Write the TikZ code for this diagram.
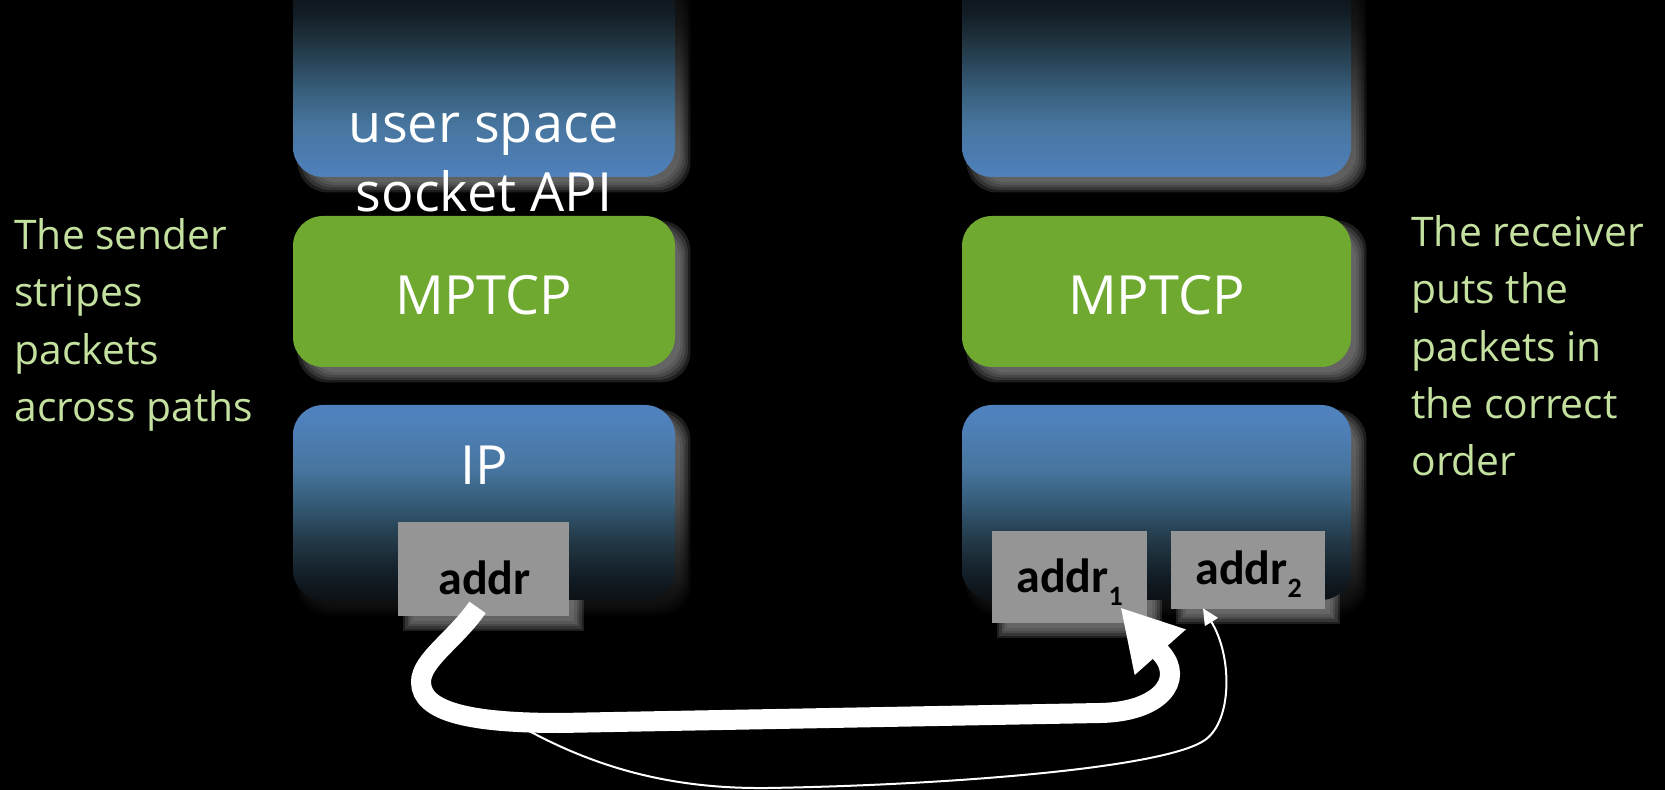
\documentclass[tikz,border=0pt]{standalone}
\usepackage{fontspec}
\setmainfont{Open Sans}
\newfontfamily\addrfont{Carlito}
\usetikzlibrary{arrows.meta,calc}

\definecolor{layerblue}{RGB}{79,129,189}
\definecolor{layergreen}{RGB}{111,169,48}
\definecolor{addrgray}{RGB}{149,149,149}
\definecolor{notegreen}{RGB}{196,225,160}
\definecolor{fadeA}{RGB}{72,118,160}
\definecolor{fadeB}{RGB}{56,96,126}
\definecolor{fadeC}{RGB}{34,56,70}
\definecolor{fadeD}{RGB}{18,28,36}
\definecolor{fadeE}{RGB}{8,10,13}
\definecolor{shadowgray}{RGB}{150,150,150}
\colorlet{shA}{shadowgray!88!black}
\colorlet{shB}{shadowgray!72!black}
\colorlet{shC}{shadowgray!42!black}
\colorlet{shD}{shadowgray!22!black}
\colorlet{shE}{shadowgray!8!black}

% upper layers: black at the top, blue at the bottom
\pgfdeclareverticalshading{fadeup}{100bp}{color(0bp)=(layerblue); color(24.2bp)=(layerblue); color(37.2bp)=(fadeA); color(45.4bp)=(fadeB); color(56.5bp)=(fadeC); color(64.7bp)=(fadeD); color(78.3bp)=(fadeE); color(85.5bp)=(black); color(100bp)=(black)}
\pgfdeclareverticalshading{fadeupshadow}{100bp}{color(0bp)=(shadowgray); color(24.2bp)=(shadowgray); color(37.2bp)=(shA); color(45.4bp)=(shB); color(56.5bp)=(shC); color(64.7bp)=(shD); color(78.3bp)=(shE); color(85.5bp)=(black); color(100bp)=(black)}
% lower layers: blue at the top, black at the bottom
\pgfdeclareverticalshading{fadedown}{100bp}{color(0bp)=(black); color(11.3bp)=(black); color(21.5bp)=(fadeE); color(30.8bp)=(fadeD); color(40bp)=(fadeC); color(51.3bp)=(fadeB); color(59bp)=(fadeA); color(71.8bp)=(layerblue); color(100bp)=(layerblue)}
\pgfdeclareverticalshading{fadedownshadow}{100bp}{color(0bp)=(black); color(11.3bp)=(black); color(21.5bp)=(shE); color(30.8bp)=(shD); color(40bp)=(shC); color(51.3bp)=(shB); color(59bp)=(shA); color(71.8bp)=(shadowgray); color(100bp)=(shadowgray)}

\pgfdeclarelayer{backdrop}
\pgfdeclarelayer{shadows}
\pgfsetlayers{backdrop,shadows,main}

% soft drop shadow below a named node
\newcommand\dropshadow[3]{%
  \foreach \sh in {-5,-2.5,0,2.5,5}{%
    \path[#2, opacity=0.2, rounded corners=#3]
      ($(#1.north west)+(10-\sh,10-\sh)$) rectangle ($(#1.south east)+(10+\sh,10+\sh)$);
  }}

\tikzset{
  layerbox/.style={rounded corners=15pt, inner sep=0pt, draw=none},
  addrbox/.style={fill=addrgray, inner sep=0pt, draw=none},
  lbl/.style={text=white, font=\fontsize{27}{27}\selectfont, inner sep=0pt},
  addrtxt/.style={text=black, font=\addrfont\bfseries\fontsize{24}{24}\selectfont, inner sep=0pt},
  note/.style={text=notegreen, font=\fontsize{20.4}{28.7}\selectfont, align=left, inner sep=0pt},
  bigflow/.style={draw=white, line width=10pt, -{Triangle[length=30pt,width=32pt]}},
  smallflow/.style={draw=white, line width=1pt, -{Triangle[length=8pt,width=7.5pt]}},
}
\newcommand\addrsub[1]{{\fontsize{14}{14}\selectfont\raisebox{-6pt}{#1}}}

\begin{document}
\begin{tikzpicture}[x=0.5pt, y=-0.5pt]
\useasboundingbox (0,0) rectangle (1665,790);
\begin{pgfonlayer}{backdrop}
  \fill[black] (0,0) rectangle (1665,790);
\end{pgfonlayer}

% sender stack
\node[layerbox, shading=fadeup, minimum width=191pt, minimum height=103.5pt] (userL) at (484,73.5) {};
\node[layerbox, fill=layergreen, minimum width=191pt, minimum height=75.5pt] (mptcpL) at (484,291.5) {};
\node[layerbox, shading=fadedown, minimum width=191pt, minimum height=97.5pt] (ipL) at (484,502.5) {};
\node[addrbox, minimum width=85.5pt, minimum height=47pt] (addrL) at (483.5,569) {};

% receiver stack
\node[layerbox, shading=fadeup, minimum width=194.5pt, minimum height=103.5pt] (userR) at (1156.5,73.5) {};
\node[layerbox, fill=layergreen, minimum width=194.5pt, minimum height=75.5pt] (mptcpR) at (1156.5,291.5) {};
\node[layerbox, shading=fadedown, minimum width=194.5pt, minimum height=97.5pt] (ipR) at (1156.5,502.5) {};
\node[addrbox, minimum width=77.5pt, minimum height=46pt] (addrA) at (1069.5,577) {};
\node[addrbox, minimum width=77pt, minimum height=39pt] (addrB) at (1248,570) {};

\begin{pgfonlayer}{shadows}
  \dropshadow{userL}{shading=fadeupshadow}{15pt}
  \dropshadow{userR}{shading=fadeupshadow}{15pt}
  \dropshadow{mptcpL}{fill=shadowgray}{15pt}
  \dropshadow{mptcpR}{fill=shadowgray}{15pt}
  \dropshadow{ipL}{shading=fadedownshadow}{15pt}
  \dropshadow{ipR}{shading=fadedownshadow}{15pt}
  \dropshadow{addrL}{fill=shadowgray}{0pt}
  \dropshadow{addrA}{fill=shadowgray}{0pt}
  \dropshadow{addrB}{fill=shadowgray}{0pt}
\end{pgfonlayer}

% layer labels
\node[lbl, anchor=base] (userTxt) at (484,143) {user space};
\node[lbl, anchor=base] (sockTxt) at (484,212) {socket API};
\node[lbl, anchor=base] (mptcpTxtL) at (484,315) {MPTCP};
\node[lbl, anchor=base] (mptcpTxtR) at (1156.5,315) {MPTCP};
\node[lbl, anchor=base] (ipTxt) at (484,485) {IP};

% addresses
\node[addrtxt, anchor=base] (addrTxtL) at (484.5,595) {addr};
\node[addrtxt, anchor=base west] (addrTxtA) at (1016,593) {addr\addrsub{1}};
\node[addrtxt, anchor=base west] (addrTxtB) at (1195,585) {addr\addrsub{2}};

% side notes
\node[note, anchor=north west] (sendNote) at (14,218) {The sender\\stripes\\packets\\across paths};
\node[note, anchor=north west] (recvNote) at (1411,215) {The receiver\\puts the\\packets in\\the correct\\order};

% the two paths
\draw[smallflow] ($(addrL.south)+(32,107)$) .. controls (600,772) and (680,789) .. (768,788)
  .. controls (950,785) and (1165,768) .. (1205,740)
  .. controls (1233,720) and (1232,655) .. ($(addrB.south)+(-45,-1)$);
\draw[bigflow] ($(addrL.south)+(-6,-9)$) .. controls (455,640) and (421,660) .. (421,682)
  .. controls (421,712) and (470,723) .. (560,723) -- (1100,713)
  .. controls (1160,712) and (1185,680) .. (1161,653) -- ($(addrA.south east)+(-27,-16)$);
\end{tikzpicture}
\end{document}
